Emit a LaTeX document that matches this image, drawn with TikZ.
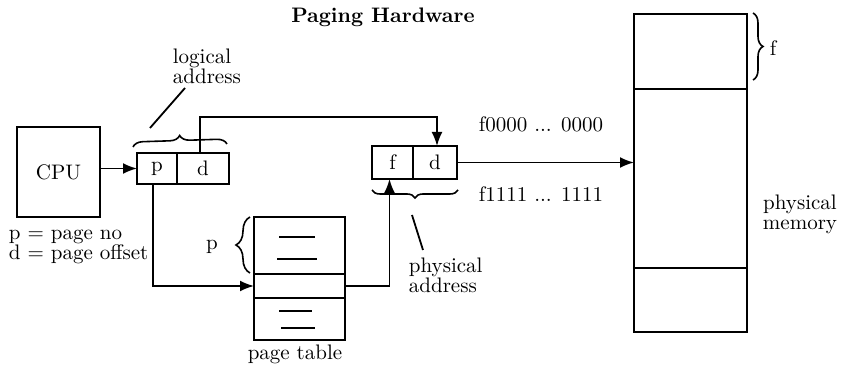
\documentclass[tikz,border=0pt]{standalone}
\usetikzlibrary{positioning,decorations.pathreplacing,arrows,arrows.meta}
\begin{document}
\begin{tikzpicture}[x=0.5pt, y=-0.5pt, line width=0.9pt,
  font=\fontsize{10.5}{10}\selectfont,
  cell/.style={draw, inner sep=0pt, outer sep=0pt},
  arr/.style={-{Latex[length=7pt,width=5.5pt]}},
  curly/.style={decorate, decoration={brace, amplitude=#1}, line width=0.8pt},
  curly/.default=4pt,
  lbl/.style={align=left, inner sep=0pt}]
\useasboundingbox (0,0) rectangle (841,367);
\node[font=\fontsize{10.5}{10}\selectfont\bfseries, anchor=base] (title) at (383,23) {Paging Hardware};
% cpu and logical address
\node[cell, minimum width=41.5pt, minimum height=45pt] (cpu) at (58.5,172) {CPU};
\node[cell, minimum width=20pt, minimum height=15.5pt] (lp) at (157,168.5) {p};
\node[cell, minimum width=26pt, minimum height=15.5pt, right=0pt of lp] (ld) {d};
\node[lbl, anchor=west] (note) at (8,246.5) {p = page no\\d = page offset};
\node[lbl, anchor=west] (laddr) at (172,66) {logical\\address};
% physical address
\node[cell, minimum width=20.5pt, minimum height=16.5pt] (pf) at (392.5,162.5) {f};
\node[cell, minimum width=22pt, minimum height=16.5pt, right=0pt of pf] (pd) {d};
\node[lbl, anchor=west] (paddr) at (408,275) {physical\\address};
\node[lbl, anchor=west] (fzero) at (478,124) {f0000 ... 0000};
\node[lbl, anchor=west] (fone) at (478,194) {f1111 ... 1111};
% page table
\node[cell, minimum width=45.5pt, minimum height=28.5pt] (pt1) at (299.5,245.5) {};
\node[cell, minimum width=45.5pt, minimum height=12pt, below=0pt of pt1] (pt2) {};
\node[cell, minimum width=45.5pt, minimum height=21pt, below=0pt of pt2] (pt3) {};
\node[inner sep=0pt] (ptlbl) at (295,354) {page table};
\foreach \a/\b/\y in {279/315/237, 277/317/259, 279/312/311, 281/315/328} % entries
\draw (\a,\y) -- (\b,\y);
\node[inner sep=0pt] (pp) at (212,247) {p};
% physical memory
\node[cell, minimum width=56.5pt, minimum height=37.5pt] (m1) at (690.5,51.5) {};
\node[cell, minimum width=56.5pt, minimum height=89.5pt, below=0pt of m1] (m2) {};
\node[cell, minimum width=56.5pt, minimum height=32pt, below=0pt of m2] (m3) {};
\node[inner sep=0pt] (mf) at (773,48) {f};
\node[align=center, inner sep=0pt] (mlbl) at (800,214) {physical\\memory};
% braces
\draw[curly=5pt] (133,147) -- (227,144);
\draw[curly] (458,190) -- (372,190);
\draw[curly=7pt] (250,273) -- (250,217);
\draw[curly=5pt] (753,13) -- (753,80);
% pointers to the braces
\coordinate (lhint) at (150,128);
\coordinate (phint) at (423,250);
\draw (185,88) -- (lhint);
\draw (412,215) -- (phint);
% connectors
\draw[arr] (cpu.east |- lp.west) -- (lp.west);
\draw[arr] ([xshift=-1.5pt]ld.north) -- ++(0,-36) -| ([xshift=1pt]pd.north);
\draw[arr] ([xshift=-2pt]lp.south) |- (pt2.west);
\draw[arr] (pt2.east) -| ([xshift=-1.5pt]pf.south);
\draw[arr] (pd.east) -- (pd.east -| m2.west);
\end{tikzpicture}
\end{document}
